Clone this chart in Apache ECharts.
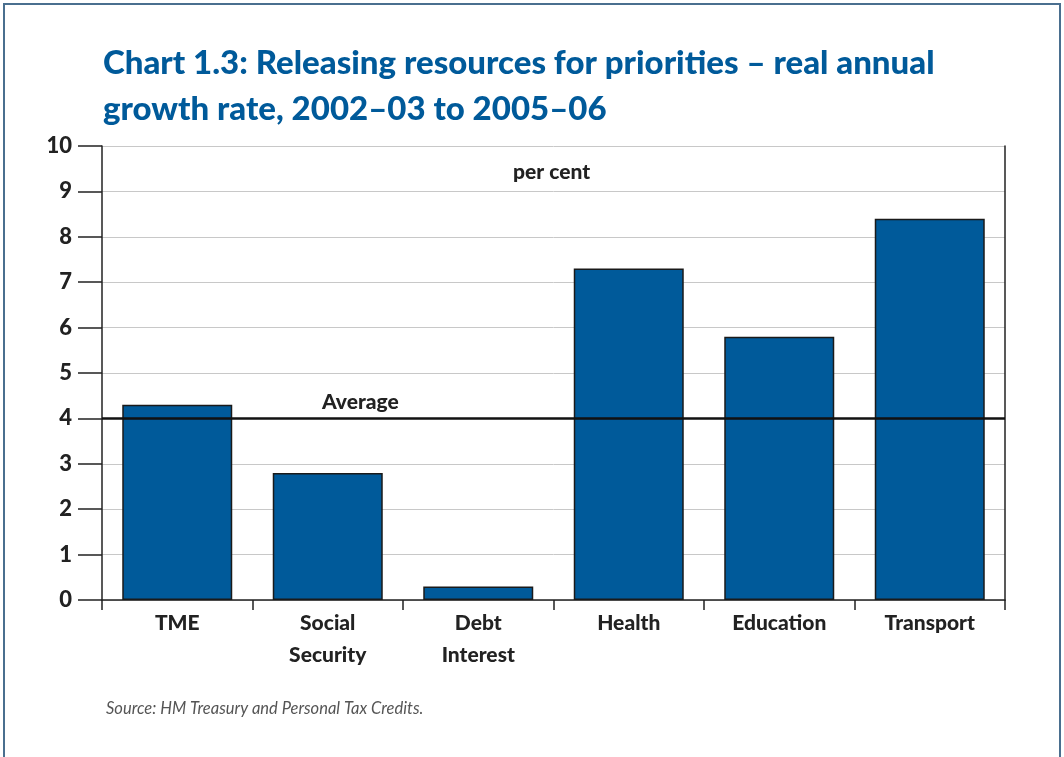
<!DOCTYPE html>
<html>
<head>
<meta charset="utf-8">
<script src="https://cdn.jsdelivr.net/npm/echarts@6/dist/echarts.min.js"></script>
<style>
  html, body { margin: 0; padding: 0; background: #fff; }
  #frame { position: absolute; left: 3px; top: 3px; width: 1058px; height: 760px; border: 2px solid #4a6f8f; box-sizing: border-box; }
  #chart { width: 1064px; height: 757px; }
</style>
</head>
<body>
<div id="chart"></div>
<div id="frame"></div>
<script>
// categories and growth rates (per cent)
const categories = ['TME', 'Social\nSecurity', 'Debt\nInterest', 'Health', 'Education', 'Transport']
const growth = [4.3, 2.8, 0.3, 7.3, 5.8, 8.4]
const average = 4
const yTicks = [0, 1, 2, 3, 4, 5, 6, 7, 8, 9, 10]

const blue = '#005a9a'
const ink = '#222222'
const font = 'Lato'

const chart = echarts.init(document.getElementById('chart'))

const options = {
    animation: false,
    title: [
        {
            text: 'Chart 1.3: Releasing resources for priorities \u2013 real annual\ngrowth rate, 2002\u201303 to 2005\u201306',
            left: 98,
            top: 35,
            textStyle: {
                color: blue,
                fontFamily: font,
                fontWeight: 900,
                fontSize: 33,
                lineHeight: 46
            }
        },
        {
            text: 'per cent',
            left: 508,
            top: 157,
            textStyle: { color: ink, fontFamily: font, fontWeight: 900, fontSize: 21 }
        },
        {
            text: 'Source: HM Treasury and Personal Tax Credits.',
            left: 101,
            top: 695,
            textStyle: { color: '#555', fontFamily: font, fontStyle: 'italic', fontWeight: 'normal', fontSize: 16.5 }
        }
    ],
    grid: {
        left: 102,
        right: 59,
        top: 146,
        bottom: 157,
        containLabel: false
    },
    xAxis: {
        type: 'category',
        data: categories,
        axisLine: { lineStyle: { color: ink, width: 1.5 } },
        axisTick: { show: true, length: 10, lineStyle: { color: ink, width: 1.5 } },
        axisLabel: {
            color: ink,
            fontFamily: font,
            fontWeight: 900,
            fontSize: 21,
            lineHeight: 32,
            margin: 7
        }
    },
    yAxis: [
        {
            type: 'value',
            min: yTicks[0],
            max: yTicks[yTicks.length - 1],
            interval: 1,
            axisLine: { show: true, lineStyle: { color: ink, width: 1.5 } },
            axisTick: { show: true, length: 24, lineStyle: { color: ink, width: 1.5 } },
            axisLabel: {
                color: ink,
                fontFamily: font,
                fontWeight: 900,
                fontSize: 22,
                margin: 30
            },
            splitLine: { lineStyle: { color: '#c8c8c8', width: 1 } }
        },
        {
            type: 'value',
            position: 'right',
            min: yTicks[0],
            max: yTicks[yTicks.length - 1],
            interval: 1,
            axisLine: { show: true, lineStyle: { color: ink, width: 1.5 } },
            axisTick: { show: false },
            axisLabel: { show: false },
            splitLine: { show: false }
        }
    ],
    series: [
        {
            type: 'bar',
            data: growth,
            barWidth: 110,
            itemStyle: {
                color: blue,
                borderColor: '#1a1a1a',
                borderWidth: 1.5
            },
            markLine: {
                silent: true,
                symbol: 'none',
                lineStyle: { color: '#111', width: 2.5, type: 'solid' },
                label: {
                    show: true,
                    position: 'insideStartTop',
                    distance: [220, 6],
                    formatter: 'Average',
                    color: ink,
                    fontFamily: font,
                    fontWeight: 900,
                    fontSize: 21
                },
                data: [{ yAxis: average }]
            }
        }
    ]
}

chart.setOption(options)
</script>
</body>
</html>
